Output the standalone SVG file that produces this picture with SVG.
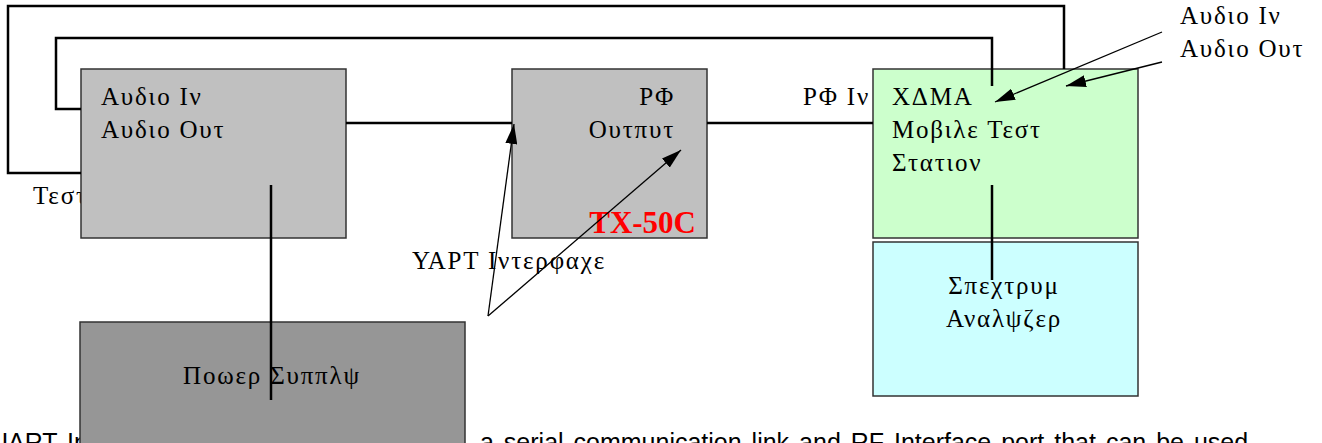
<svg xmlns="http://www.w3.org/2000/svg" width="1322" height="443" viewBox="0 0 1322 443">
<style>
.g{font-family:"Liberation Serif","DejaVu Serif",serif;font-size:25px;letter-spacing:1.8px;fill:#000}
.box{stroke:#333;stroke-width:1.5}
.thick{fill:none;stroke:#000;stroke-width:2.5}
.thin{fill:none;stroke:#000;stroke-width:1.3}
.s{font-family:"Liberation Sans",Arial,sans-serif;font-size:25px;word-spacing:3px;fill:#000}
</style>
<defs>
<marker id="ah" viewBox="0 0 20 12" refX="20" refY="6" markerWidth="20" markerHeight="12" markerUnits="userSpaceOnUse" orient="auto">
<path d="M0,0 L20,6 L0,12 Z" fill="#000"/>
</marker>
</defs>
<rect width="1322" height="443" fill="#fff"/>
<text class="g" x="33" y="204">Τεστ</text>
<text class="s" x="-10" y="451">UART In</text>
<text class="s" x="480" y="451">a serial communication link and RF Interface port that can be used</text>
<g id="audio-box">
<rect class="box" x="81" y="69" width="265" height="169" fill="#c0c0c0"/>
<text class="g" x="101" y="105">Αυδιο Ιν</text>
<text class="g" x="101" y="138">Αυδιο Ουτ</text>
</g>
<g id="tx50c">
<rect class="box" x="512" y="69" width="195" height="169" fill="#c0c0c0"/>
<text class="g" x="675" y="105" text-anchor="end">ΡΦ</text>
<text class="g" x="675" y="138" text-anchor="end">Ουτπυτ</text>
<text x="696" y="233" text-anchor="end" font-family="Liberation Serif,serif" font-weight="bold" font-size="31" fill="#ff0000">TX-50C</text>
</g>
<g id="cdma-station">
<rect class="box" x="873" y="69" width="265" height="169" fill="#ccffcc"/>
<text class="g" x="892" y="105">ΧΔΜΑ</text>
<text class="g" x="892" y="138">Μοβιλε Τεστ</text>
<text class="g" x="892" y="171">Στατιον</text>
</g>
<g id="spectrum-analyzer">
<rect class="box" x="873" y="242" width="265" height="154" fill="#ccffff"/>
<text class="g" x="1004" y="294" text-anchor="middle">Σπεχτρυμ</text>
<text class="g" x="1004" y="327" text-anchor="middle">Αναλψζερ</text>
</g>
<g id="power-supply">
<rect class="box" x="80" y="322" width="385" height="130" fill="#969696"/>
<text class="g" x="272" y="384" text-anchor="middle">Ποωερ Συππλψ</text>
</g>
<g id="labels">
<text class="g" x="803" y="105">ΡΦ Ιν</text>
<text class="g" x="412" y="269">ΥΑΡΤ Ιντερφαχε</text>
<text class="g" x="1180" y="24">Αυδιο Ιν</text>
<text class="g" x="1180" y="57">Αυδιο Ουτ</text>
</g>
<g id="connectors">
<polyline class="thick" points="81,173 8,173 8,6 1064,6 1064,69"/>
<polyline class="thick" points="81,109 56,109 56,38 992,38 992,86"/>
<line class="thick" x1="346" y1="123" x2="512" y2="123"/>
<line class="thick" x1="707" y1="123" x2="873" y2="123"/>
<line class="thick" x1="271" y1="185" x2="271" y2="400"/>
<line class="thick" x1="992" y1="185" x2="992" y2="280"/>
<line class="thin" x1="488" y1="316" x2="514" y2="124" marker-end="url(#ah)"/>
<line class="thin" x1="488" y1="316" x2="681" y2="150" marker-end="url(#ah)"/>
<line class="thin" x1="1162" y1="32" x2="995" y2="102" marker-end="url(#ah)"/>
<line class="thin" x1="1162" y1="62" x2="1066" y2="86" marker-end="url(#ah)"/>
</g>
</svg>
